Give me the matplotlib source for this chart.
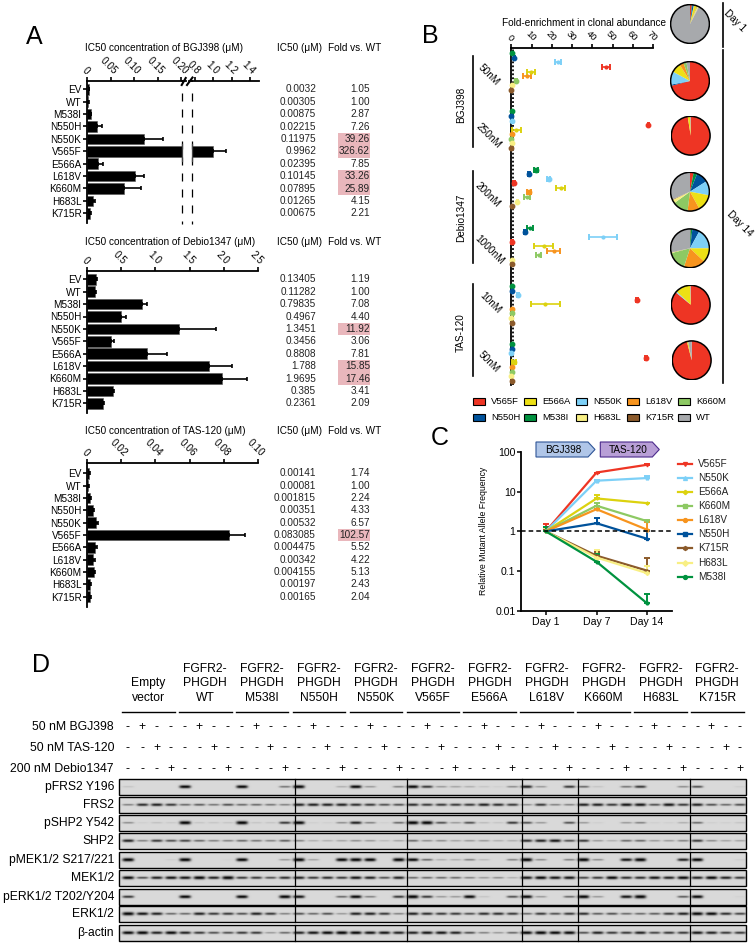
import numpy as np
import matplotlib
matplotlib.use("Agg")
from matplotlib import pyplot as plt
from matplotlib.patches import Rectangle, Polygon
from matplotlib.transforms import ScaledTranslation

plt.rcParams['font.family'] = ['Liberation Sans', 'DejaVu Sans']
plt.rcParams['font.size'] = 7.2
plt.rcParams['axes.linewidth'] = 1.3

W, H = 755, 944
fig = plt.figure(figsize=(W / 100, H / 100), dpi=100)

# panel A
mutants = ['EV', 'WT', 'M538I', 'N550H', 'N550K', 'V565F', 'E566A', 'L618V', 'K660M', 'H683L', 'K715R']
bgj_ic50 = ['0.0032', '0.00305', '0.00875', '0.02215', '0.11975', '0.9962', '0.02395', '0.10145', '0.07895', '0.01265', '0.00675']
bgj_fold = ['1.05', '1.00', '2.87', '7.26', '39.26', '326.62', '7.85', '33.26', '25.89', '4.15', '2.21']
bgj_top = [0.0045, 0.004, 0.0095, 0.031, 0.16, 1.14, 0.033, 0.121, 0.114, 0.016, 0.0085]
debio_ic50 = ['0.13405', '0.11282', '0.79835', '0.4967', '1.3451', '0.3456', '0.8808', '1.788', '1.9695', '0.385', '0.2361']
debio_fold = ['1.19', '1.00', '7.08', '4.40', '11.92', '3.06', '7.81', '15.85', '17.46', '3.41', '2.09']
debio_top = [0.145, 0.13, 0.873, 0.57, 1.886, 0.395, 1.165, 2.115, 2.34, 0.4, 0.25]
tas_ic50 = ['0.00141', '0.00081', '0.001815', '0.00351', '0.00532', '0.083085', '0.004475', '0.00342', '0.004155', '0.00197', '0.00165']
tas_fold = ['1.74', '1.00', '2.24', '4.33', '6.57', '102.57', '5.52', '4.22', '5.13', '2.43', '2.04']
tas_top = [0.0018, 0.001, 0.0025, 0.004, 0.0065, 0.0924, 0.0058, 0.0048, 0.0046, 0.0026, 0.0022]
bgj_ticks_low = [0, 0.05, 0.10, 0.15, 0.20]
bgj_ticks_high = [0.8, 1.0, 1.2, 1.4]
debio_ticks = [0, 0.5, 1.0, 1.5, 2.0, 2.5]
tas_ticks = [0, 0.02, 0.04, 0.06, 0.08, 0.10]

# panel B
clones = ['M538I', 'N550H', 'N550K', 'V565F', 'E566A', 'L618V', 'K660M', 'H683L', 'K715R']
clone_colors = ['#00923f', '#00529b', '#7dd0f7', '#ee3524', '#dcd20f', '#f7941e', '#8dc963', '#f8ef84', '#8b5a2b']
bgj50 = [0.3, 1.5, 22.9, 46.9, 9.9, 7.6, 2.1, 0.15, 0.05]
bgj50_err = [0, 0.4, 1.6, 2, 2, 2, 0.5, 0, 0]
bgj250 = [0.3, 0.05, 0.15, 67.6, 2.5, 0.3, 0.05, 0.15, 0.05]
bgj250_err = [0, 0, 0, 0.4, 2.3, 0, 0, 0, 0]
debio200 = [12.2, 8.9, 18.4, 1.3, 24.3, 8.9, 7.6, 3, 0.3]
debio200_err = [0.8, 0.5, 0.8, 0.6, 2.3, 1, 1.5, 0.4, 0]
debio1000 = [9.2, 6.6, 45.2, 0.5, 16, 21, 13.5, 0.3, 0.3]
debio1000_err = [1.7, 0.5, 7.1, 0.5, 4.6, 3.2, 1.2, 0, 0]
tas10 = [0.3, 0.3, 3.3, 61.8, 16.8, 0.3, 0.15, 0.05, 0.3]
tas10_err = [0, 0, 0.7, 0.5, 7, 0, 0, 0, 0]
tas50 = [0.2, 0.2, 0.05, 66.4, 1.3, 0.3, 0.1, 0.05, 0.2]
tas50_err = [0, 0, 0, 0.4, 1, 0, 0, 0, 0]
enrich_ticks = [0, 10, 20, 30, 40, 50, 60, 70]

pie_names = ['V565F', 'E566A', 'N550K', 'L618V', 'K660M', 'N550H', 'M538I', 'H683L', 'K715R', 'WT']
pie_colors = ['#ee3524', '#ede015', '#7dd0f7', '#f7941e', '#8dc963', '#00529b', '#00923f', '#f8ef84', '#8b5a2b', '#a7a9ac']
pie_order = [0, 6, 5, 2, 1, 3, 4, 7, 8, 9]
pie_day1 = [1.5, 2.2, 0.3, 0.5, 0.5, 1.2, 0.5, 0.8, 0.2, 92.3]
pie_bgj50 = [71, 8, 11, 3.5, 2.5, 1, 0, 0, 0, 3]
pie_bgj250 = [97.5, 2, 0, 0, 0, 0, 0, 0, 0, 0.5]
pie_debio200 = [3, 14, 12, 10, 13, 10, 3, 3, 0.5, 31.5]
pie_debio1000 = [0.5, 12, 17, 18, 16, 6, 1.5, 0.5, 0.3, 28.2]
pie_tas10 = [86, 12.5, 1, 0, 0, 0, 0, 0, 0, 0.5]
pie_tas50 = [96, 1, 0, 0, 0, 0, 0, 0, 0, 3]

# panel C
days = ['Day 1', 'Day 7', 'Day 14']
freq_names = ['V565F', 'N550K', 'E566A', 'K660M', 'L618V', 'N550H', 'K715R', 'H683L', 'M538I']
freq_colors = ['#ee3524', '#7dd0f7', '#dcd20f', '#8dc963', '#f7941e', '#00529b', '#8b5a2b', '#f8ef84', '#00923f']
freq_marks = ['v', '^', 'P', 's', 'o', 's', 'h', 'D', 'o']
freq_vals = [[1, 30, 47], [1, 18.7, 21.8], [1, 6.7, 5.1], [1, 4.4, 1.8], [1, 3.6, 1.1],
             [1, 1.6, 0.65], [1, 0.245, 0.103], [1, 0.22, 0.089], [1, 0.173, 0.0155]]
freq_top = [[1.5, 30, 50], [1.2, 19.5, 25], [1.3, 8.3, 5.2], [1.2, 5.2, 1.9], [1.2, 3.7, 1.7],
            [1.3, 2.2, 1.03], [1.1, 0.31, 0.22], [1.2, 0.34, 0.137], [1.3, 0.27, 0.026]]

# panel D
groups = ['Empty\nvector', 'FGFR2-\nPHGDH\nWT', 'FGFR2-\nPHGDH\nM538I', 'FGFR2-\nPHGDH\nN550H', 'FGFR2-\nPHGDH\nN550K',
          'FGFR2-\nPHGDH\nV565F', 'FGFR2-\nPHGDH\nE566A', 'FGFR2-\nPHGDH\nL618V', 'FGFR2-\nPHGDH\nK660M',
          'FGFR2-\nPHGDH\nH683L', 'FGFR2-\nPHGDH\nK715R']
treatments = ['50 nM BGJ398', '50 nM TAS-120', '200 nM Debio1347']
blot_names = ['pFRS2 Y196', 'FRS2', 'pSHP2 Y542', 'SHP2', 'pMEK1/2 S217/221', 'MEK1/2',
              'pERK1/2 T202/Y204', 'ERK1/2', 'β-actin']
pfrs2 = [.1, 0, 0, 0, .9, 0, 0, 0, .9, 0, 0, .45, .95, 0, 0, .2, .9, .3, 0, .4, .9, .7, .3, .25,
         .2, .1, .05, .35, .8, .3, 0, .7, .5, .1, 0, .45, .7, 0, 0, .35, .6, 0, 0, .05]
frs2 = [.4, .75, .8, .7, .5, .55, .45, .6, .5, .5, .45, .4, .8, .8, .8, .8, .75, .7, .6, .6, .75, .7, .7, .7,
        .7, .8, .75, .7, .35, .7, .4, .4, .8, .8, .7, .85, .85, .6, .85, .7, .8, .6, .5, .6]
pshp2 = [.35, .05, .12, .08, 1, .1, .1, .1, 1, .1, .1, .7, .95, .05, .05, .35, .8, .4, .05, .5, 1, 1, .6, .3,
         .6, .15, .1, .7, .6, .3, 0, .6, .3, .05, 0, .3, .4, .05, .05, .2, .5, .05, .05, .1]
shp2 = [.8, .4, .7, .6, .65, .5, .4, .4, .5, .45, .4, .55, .4, .2, .2, .25, .35, .3, .15, .25, .5, .35, .35, .25,
        .3, .3, .2, .2, .75, .8, .85, .6, .7, .3, .2, .5, .5, .3, .3, .4, .7, .35, .25, .25]
pmek = [1, 0, 0, .05, 1, 0, 0, .02, .95, 0, 0, .3, 1, .25, 0, .95, 1, .95, 0, 1, .9, .5, .2, .2,
        .4, .15, 0, .4, 1, .35, 0, .4, 1, .35, 0, .85, 1, 0, 0, .8, .95, 0, 0, .05]
mek = [.9, .6, .8, .85, .85, .95, .8, 1, .7, .7, .6, .75, .8, .7, .75, .7, .85, .8, .6, .8, .5, .5, .5, .5,
       .4, .3, .35, .2, .85, .9, .85, .85, .65, .7, .9, .75, .75, .85, .8, .9, .8, .9, .8, .7]
perk = [.7, 0, 0, 0, .9, 0, 0, 0, .9, 0, 0, .95, .85, 0, 0, .5, .9, .4, 0, .7, 1, .7, .3, .3,
        .9, .1, 0, .6, .9, .3, 0, .5, .95, .3, 0, .85, 1, 0, 0, .55, .9, 0, 0, .03]
erk = [1, .85, .8, .5, .5, .8, .7, .7, .6, .8, .7, .4, .6, .5, .6, .3, .8, .8, .7, .4, .8, .75, .7, .7,
       .6, .75, .75, .7, .5, .7, .6, .7, .75, .55, .6, .5, .5, .55, .7, .8, .95, .9, .75, .65]
actin = [.9, .95, .8, .9, .8, .7, .6, .6, .7, .7, .3, .5, .8, .85, .9, .95, .9, .85, .85, .8, .8, .85, .85, .8,
         .6, .4, .3, .5, .9, .95, .9, .9, .6, .8, .7, .7, .8, .65, .7, .7, .85, .8, .7, .7]
blots = [pfrs2, frs2, pshp2, shp2, pmek, mek, perk, erk, actin]


def px_axes(x0, y0, x1, y1):
    return fig.add_axes([x0 / W, 1 - y1 / H, (x1 - x0) / W, (y1 - y0) / H])


# full-figure axes in pixels for text, legends and blots
pix = fig.add_axes([0, 0, 1, 1], zorder=5)
pix.patch.set_alpha(0)
pix.axis('off')

for letter, x, y in [('A', 34, 37), ('B', 430, 36), ('C', 440, 438), ('D', 41, 665)]:
    pix.text(x, y, letter, fontsize=18, ha='center', va='center')


def style_top(ax, ticks, labels, size=7.2):
    ax.xaxis.tick_top()
    ax.set_xticks(ticks)
    ax.set_xticklabels(labels)
    ax.tick_params(axis='x', length=3, width=1.2, pad=3, labelsize=size)
    for lab, txt in zip(ax.get_xticklabels(), labels):
        lab.set(rotation=-45, ha='right', va='center', rotation_mode='anchor')
        # slide each label so that it sits centred above its tick
        shift = ScaledTranslation(1.2 * len(txt) / 100, 0, fig.dpi_scale_trans)
        lab.set_transform(lab.get_transform() + shift)
    for s in ['right', 'bottom']:
        ax.spines[s].set_visible(False)


def bars(ax, vals, tops):
    rows = np.arange(len(vals))
    ax.barh(rows, vals, height=0.86, color='k', edgecolor='#555555', linewidth=0.4)
    ax.errorbar(vals, rows, xerr=[np.zeros(len(vals)), np.array(tops) - np.array(vals)], fmt='none',
                ecolor='k', elinewidth=1.2, capsize=1.6, capthick=1.2)


def table(title, ic50, fold, y0, title_y, step=12.4):
    pix.text(85, title_y, 'IC50 concentration of ' + title + ' (μM)', va='center')
    pix.text(277, title_y, 'IC50 (μM)', va='center')
    pix.text(328, title_y, 'Fold vs. WT', va='center')
    for i in range(len(ic50)):
        y = y0 + i * step
        if float(fold[i]) > 10:
            pix.add_patch(Rectangle((338, y - step / 2), 32, step, fc='#e9b7bc', ec='none'))
        pix.text(316, y, ic50[i], ha='right', va='center', color='#222222')
        pix.text(370, y, fold[i], ha='right', va='center', color='#222222')


def side_axis(ax, y0, bottom, top, step=12.4):
    ax.set_ylim((bottom - y0) / step, (top - y0) / step)
    ax.set_yticks(range(len(mutants)))
    ax.set_yticklabels(mutants)
    ax.tick_params(axis='y', length=3, width=1.2, pad=1, labelsize=7.2)


# BGJ398, broken axis
vals = [float(v) for v in bgj_ic50]
ax = px_axes(87, 81, 182, 223)
bars(ax, vals, bgj_top)
ax.set_xlim(0, 0.2013)
side_axis(ax, 89.3, 223, 81)
style_top(ax, bgj_ticks_low, ['0', '0.05', '0.10', '0.15', '0.20'])
ax2 = px_axes(191.7, 81, 259, 223)
bars(ax2, vals, bgj_top)
ax2.set_xlim(0.764, 1.5)
ax2.set_ylim(ax.get_ylim())
ax2.set_yticks([])
style_top(ax2, bgj_ticks_high, ['0.8', '1.0', '1.2', '1.4'])
ax2.spines['left'].set_visible(False)
for x in [181.7, 191.7]:
    pix.plot([x, x], [93, 224], color='k', lw=0.9, ls=(0, (6.4, 6.4)))
    pix.plot([x, x], [144, 161], color='#444444', lw=0.9)
pix.plot([182, 186], [81, 81], color='k', lw=1.3)
pix.plot([188.5, 192], [81, 81], color='k', lw=1.3)
pix.plot([181.7, 185.7], [85, 78], color='k', lw=1.5)
pix.plot([187, 192.5], [85, 77.5], color='k', lw=1.5)
table('BGJ398', bgj_ic50, bgj_fold, 89.3, 48)

# Debio1347
ax = px_axes(87, 270.7, 258, 413)
bars(ax, [float(v) for v in debio_ic50], debio_top)
ax.set_xlim(0, 2.5)
side_axis(ax, 279.3, 413, 270.7)
style_top(ax, debio_ticks, ['0', '0.5', '1.0', '1.5', '2.0', '2.5'])
table('Debio1347', debio_ic50, debio_fold, 279.3, 242)

# TAS-120
ax = px_axes(87, 463.3, 258, 606.7)
bars(ax, [float(v) for v in tas_ic50], tas_top)
ax.set_xlim(0, 0.1)
side_axis(ax, 473.3, 606.7, 463.3, 12.33)
style_top(ax, tas_ticks, ['0', '0.02', '0.04', '0.06', '0.08', '0.10'])
table('TAS-120', tas_ic50, tas_fold, 473.3, 431, 12.33)

# panel B dot plot
doses = [(bgj50, bgj50_err), (bgj250, bgj250_err), (debio200, debio200_err),
         (debio1000, debio1000_err), (tas10, tas10_err), (tas50, tas50_err)]
ax = px_axes(511.3, 48.3, 653.3, 385)
for g, (v, e) in enumerate(doses):
    for i in range(len(clones)):
        y = g * 12.76 + i
        ax.errorbar(v[i], y, xerr=e[i] if e[i] else None, fmt='o', ms=2 if e[i] > 1 else 3.2, color=clone_colors[i],
                    elinewidth=1.2, capsize=1.9, capthick=1.4, clip_on=False, zorder=3)
ax.set_xlim(0, 70)
ax.set_ylim((385 - 53.3) / 4.56, (48.3 - 53.3) / 4.56)
ax.axvline(1, color='k', lw=1.3, ls=(0, (1, 1.2)))
ax.set_yticks([])
style_top(ax, enrich_ticks, [str(t) for t in enrich_ticks], 6.8)
pix.text(584.5, 23, 'Fold-enrichment in clonal abundance', ha='center', va='center')

for name, y0, y1, yc in [('BGJ398', 55.7, 146.7, 105), ('Debio1347', 171, 263, 218), ('TAS-120', 284, 376, 333)]:
    pix.plot([473.3, 473.3], [y0, y1], color='k', lw=1.2)
    pix.text(460.7, yc, name, rotation=90, ha='center', va='center')
for dose, x, y in [('50nM', 489, 75), ('250nM', 489, 136), ('200nM', 488, 195), ('1000nM', 489, 250),
                   ('10nM', 490, 303), ('50nM', 489, 362)]:
    pix.text(x, y, dose, rotation=-45, ha='center', va='center', rotation_mode='anchor')

pies = [pie_day1, pie_bgj50, pie_bgj250, pie_debio200, pie_debio1000, pie_tas10, pie_tas50]
for p, (cx, cy) in zip(pies, [(690, 24), (690, 81), (690.7, 135.7), (690, 191.7), (690, 248.3), (690.7, 304.7), (691.7, 360.3)]):
    a = px_axes(cx - 20, cy - 20, cx + 20, cy + 20)
    a.pie([p[i] for i in pie_order], colors=[pie_colors[i] for i in pie_order], startangle=90, counterclock=False,
          radius=0.97, wedgeprops={'linewidth': 0})
    a.add_patch(plt.Circle((0, 0), 0.97, fc='none', ec='k', lw=1.1))
    a.set_xlim(-1, 1)
    a.set_ylim(-1, 1)

pix.plot([722.7, 722.7], [2.7, 46.7], color='k', lw=1.2)
pix.plot([722.7, 722.7], [50, 382.7], color='k', lw=1.2)
pix.text(735, 21, 'Day 1', rotation=-45, ha='center', va='center', rotation_mode='anchor')
pix.text(740, 224, 'Day 14', rotation=-45, ha='center', va='center', rotation_mode='anchor')

leg_x = [473.3, 524.3, 575.7, 627.3, 678.3]
for i, name in enumerate(pie_names):
    x = leg_x[i % 5]
    y = 401.3 if i < 5 else 417
    pix.add_patch(Rectangle((x, y - 3.5), 11.5, 7, fc=pie_colors[i], ec='k', lw=0.8))
    pix.text(x + 17.7, y, name, va='center', fontsize=6.8)

# panel C
ax = px_axes(521, 451.7, 672, 611)
for i in range(len(freq_names)):
    v = np.array(freq_vals[i])
    up = np.array(freq_top[i]) - v
    ax.errorbar(range(3), v, yerr=[np.zeros(3), up], color=freq_colors[i], marker=freq_marks[i], ms=2,
                lw=1.6, elinewidth=1.4, capsize=2, capthick=1.4, clip_on=False)
    y = 463.7 + i * 14.13
    pix.plot([678, 692], [y, y], color=freq_colors[i], lw=1.6)
    pix.plot([685], [y], color=freq_colors[i], marker=freq_marks[i], ms=2.8)
    pix.text(698, y, freq_names[i], va='center', color='#222222')
ax.set_yscale('log')
ax.set_ylim(0.01, 100)
ax.set_xlim(-0.49, 2.49)
ax.axhline(1, color='k', lw=1.1, ls=(0, (3, 2)), zorder=5)
ax.set_xticks(range(3))
ax.set_xticklabels(days)
ax.set_yticks([0.01, 0.1, 1, 10, 100])
ax.set_yticklabels(['0.01', '0.1', '1', '10', '100'])
ax.minorticks_off()
ax.tick_params(length=3, width=1.1, pad=1, labelsize=7.6)
for s in ['right', 'top']:
    ax.spines[s].set_visible(False)
ax.set_ylabel('Relative Mutant Allele Frequency', fontsize=6.3, labelpad=5)

for name, x0, fc, ec in [('BGJ398', 536, '#b0c6e8', '#2f5597'), ('TAS-120', 600.3, '#b89fd6', '#4b2a8c')]:
    pix.add_patch(Polygon([(x0, 442), (x0 + 52, 442), (x0 + 59, 449.5), (x0 + 52, 457), (x0, 457)], fc=fc, ec=ec, lw=0.8))
    pix.text(x0 + 27.5, 450, name, ha='center', va='center')

# panel D
lane_x = [128 + 56.9 * g + 14.3 * l for g in range(len(groups)) for l in range(4)]
for g, name in enumerate(groups):
    xc = 148.3 + 56.9 * g
    lines = name.split('\n')
    for k, line in enumerate(lines):
        pix.text(xc, [698, 683, 669][len(lines) - 1 - k], line, ha='center', va='center', fontsize=8.7)
    pix.plot([xc - 26.3, xc + 26.3], [712.3, 712.3], color='k', lw=1)
for t, (name, y) in enumerate(zip(treatments, [727, 748, 769])):
    pix.text(114, y, name, ha='right', va='center', fontsize=8.8)
    for l, x in enumerate(lane_x):
        pix.text(x, y, '+' if l % 4 == t + 1 else '-', ha='center', va='center', fontsize=8.7)

row_tops = [779, 797, 815, 833, 852, 870, 889, 906, 925]
xs = np.arange(119, 746, 0.5)
for name, top, band in zip(blot_names, row_tops, blots):
    ys = np.arange(0, 16, 0.5)
    img = np.full((len(ys), len(xs)), 0.85)
    for cx, a in zip(lane_x, band):
        gx = np.exp(-((xs - cx) / 5.8) ** 4)
        gy = np.exp(-((ys - 7.5) / (0.7 + 1.0 * a ** 2)) ** 2)
        img -= 0.85 * min(a * 1.1, 1) * np.outer(gy, gx)
    pix.imshow(np.clip(img, 0, 1), cmap='gray', vmin=0, vmax=1, extent=(119, 746, top + 16, top), aspect='auto')
    pix.add_patch(Rectangle((119, top), 627, 16, fc='none', ec='k', lw=1))
    for x in [294.7, 406.7, 521.7, 578, 690]:
        pix.plot([x, x], [top, top + 16], color='k', lw=0.9)
    pix.text(114, top + 8, name, ha='right', va='center', fontsize=8.7)

pix.set_xlim(0, W)
pix.set_ylim(H, 0)
fig.savefig('out.png', dpi=100)
